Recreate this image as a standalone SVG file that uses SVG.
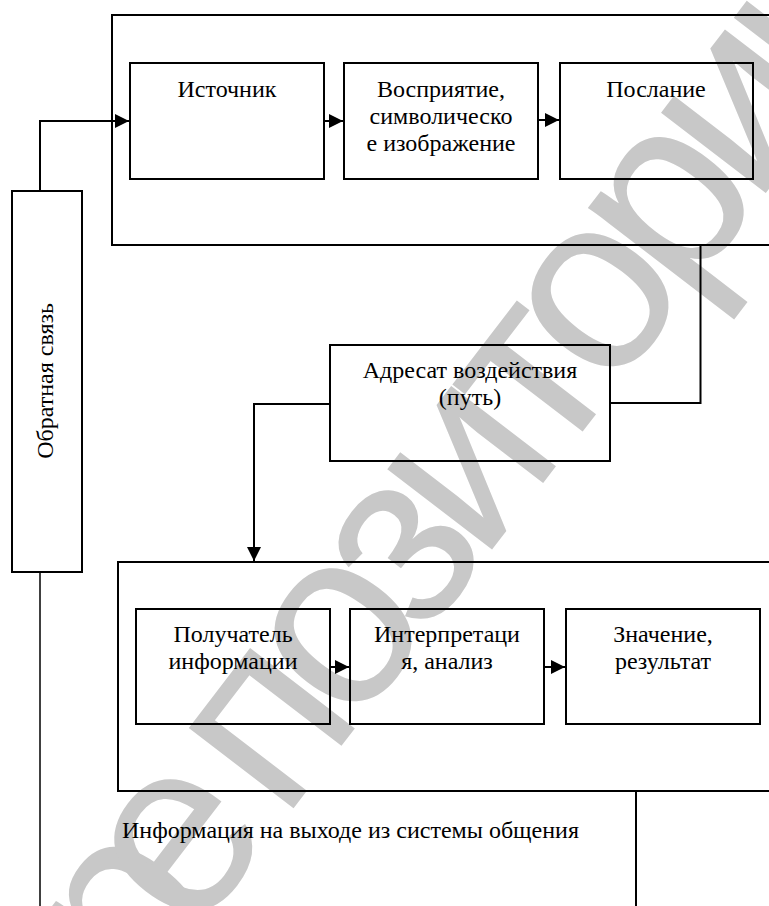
<svg xmlns="http://www.w3.org/2000/svg" width="769" height="906" viewBox="0 0 769 906">
  <style>
    .box { fill: none; stroke: #000; stroke-width: 2; }
    .line { fill: none; stroke: #000; stroke-width: 2; }
    .thin { fill: none; stroke: #000; stroke-width: 1.5; }
    .lbl { font-family: "Liberation Serif", "Times New Roman", serif; font-size: 24px; fill: #000; text-anchor: middle; }
    .mark { font-family: "Liberation Sans", Arial, sans-serif; font-size: 250px; letter-spacing: -20px; fill: #c8c8c8; }
  </style>
  <defs>
    <marker id="arrow" viewBox="0 0 10 10" refX="10" refY="5" markerWidth="7" markerHeight="7" markerUnits="strokeWidth" orient="auto">
      <path d="M0,0 L10,5 L0,10 z" fill="#000"/>
    </marker>
  </defs>
  <rect width="769" height="906" fill="#fff"/>

  <!-- background watermark -->
  <text class="mark" x="138" y="1011" transform="rotate(-52.5 138 1011)">р<tspan dx="-30">е</tspan><tspan dx="30">позиторий</tspan></text>

  <!-- outer frames -->
  <g id="sender-system">
    <rect class="box" x="112" y="15" width="700" height="230"/>
  </g>
  <g id="receiver-system">
    <rect class="box" x="118" y="562" width="700" height="229"/>
  </g>

  <!-- nodes -->
  <g id="source">
    <rect class="box" x="130" y="63" width="194" height="116"/>
    <text class="lbl" x="227" y="97">Источник</text>
  </g>
  <g id="perception">
    <rect class="box" x="344" y="63" width="194" height="116"/>
    <text class="lbl" x="441" y="97">Восприятие,</text>
    <text class="lbl" x="441" y="124">символическо</text>
    <text class="lbl" x="441" y="151">е изображение</text>
  </g>
  <g id="message">
    <rect class="box" x="560" y="63" width="193" height="116"/>
    <text class="lbl" x="656" y="97">Послание</text>
  </g>
  <g id="addressee">
    <rect class="box" x="330" y="345" width="280" height="116"/>
    <text class="lbl" x="470" y="378">Адресат воздействия</text>
    <text class="lbl" x="470" y="405">(путь)</text>
  </g>
  <g id="feedback">
    <rect class="box" x="12" y="191" width="70" height="381"/>
    <text class="lbl" transform="translate(53 381) rotate(-90)">Обратная связь</text>
  </g>
  <g id="recipient">
    <rect class="box" x="136" y="609" width="194" height="115"/>
    <text class="lbl" x="233" y="642">Получатель</text>
    <text class="lbl" x="233" y="669">информации</text>
  </g>
  <g id="interpretation">
    <rect class="box" x="350" y="609" width="194" height="115"/>
    <text class="lbl" x="447" y="642">Интерпретаци</text>
    <text class="lbl" x="447" y="669">я, анализ</text>
  </g>
  <g id="meaning">
    <rect class="box" x="566" y="609" width="194" height="115"/>
    <text class="lbl" x="663" y="642">Значение,</text>
    <text class="lbl" x="663" y="669">результат</text>
  </g>
  <g id="output-label">
    <text class="lbl" x="122" y="838" style="text-anchor: start">Информация на выходе из системы общения</text>
  </g>

  <!-- connectors -->
  <g id="connectors">
    <path class="line" d="M40,191 V121 H129" marker-end="url(#arrow)"/>
    <path class="line" d="M324,121 H343" marker-end="url(#arrow)"/>
    <path class="line" d="M538,120 H559" marker-end="url(#arrow)"/>
    <path class="line" d="M700.5,245 V403 H610"/>
    <path class="line" d="M330,404 H254 V561" marker-end="url(#arrow)"/>
    <path class="line" d="M330,667 H349" marker-end="url(#arrow)"/>
    <path class="line" d="M544,667 H565" marker-end="url(#arrow)"/>
    <path class="thin" d="M40,572 V906"/>
    <path class="line" d="M636,791 V906"/>
  </g>
</svg>
